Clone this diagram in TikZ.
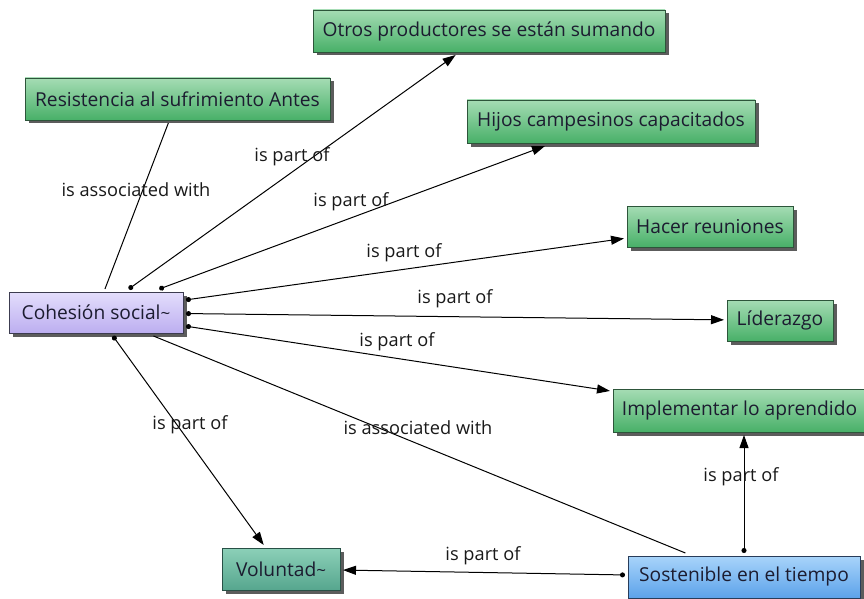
\documentclass[tikz,border=0pt]{standalone}
\usepackage{fontspec}
\setmainfont{Open Sans}
\usetikzlibrary{arrows.meta,shadows}
\definecolor{gtop}{RGB}{165,220,180}
\definecolor{gbot}{RGB}{72,176,104}
\definecolor{gline}{RGB}{45,85,58}
\definecolor{ptop}{RGB}{228,222,252}
\definecolor{pbot}{RGB}{188,174,240}
\definecolor{pline}{RGB}{60,60,80}
\definecolor{ttop}{RGB}{140,208,184}
\definecolor{tbot}{RGB}{86,166,142}
\definecolor{tline}{RGB}{40,80,70}
\definecolor{btop}{RGB}{168,212,250}
\definecolor{bbot}{RGB}{92,162,234}
\definecolor{bline}{RGB}{40,60,90}
\definecolor{txt}{RGB}{28,28,48}
\newcommand{\smalltilde}{{\fontsize{17}{17}\selectfont\textasciitilde}}
\begin{document}
\begin{tikzpicture}[x=1pt,y=-1pt,
  concept/.style={rectangle, line width=0.9pt, inner sep=0pt, outer sep=3pt,
    font=\fontsize{19.2}{21}\selectfont, text=txt,
    drop shadow={shadow xshift=3.5pt, shadow yshift=-3.5pt, opacity=0.8, fill=black!80}},
  greenbox/.style={concept, top color=gtop, bottom color=gbot, draw=gline},
  purplebox/.style={concept, top color=ptop, bottom color=pbot, draw=pline},
  tealbox/.style={concept, top color=ttop, bottom color=tbot, draw=tline},
  bluebox/.style={concept, top color=btop, bottom color=bbot, draw=bline},
  link/.style={draw=black, line width=1pt},
  partof/.style={link, {Circle[length=5pt]}-{Triangle[length=13pt,width=9pt]}},
  assoc/.style={link},
  lbl/.style={font=\fontsize{18.2}{20}\selectfont, text=black!90, inner sep=0pt}
]
\useasboundingbox (0,0) rectangle (864,599);

% concepts
\node[greenbox, minimum width=352pt, minimum height=42pt] (otros)  at (489,31)    {Otros productores se están sumando};
\node[greenbox, minimum width=305pt, minimum height=42pt] (resist) at (177.5,99)  {Resistencia al sufrimiento Antes};
\node[greenbox, minimum width=288pt, minimum height=43pt] (hijos)  at (611,121.5) {Hijos campesinos capacitados};
\node[greenbox, minimum width=166pt, minimum height=41pt] (hacer)  at (710,226.5) {Hacer reuniones};
\node[purplebox,minimum width=174pt, minimum height=41pt] (coh)    at (96,312.5)  {Cohesión social\smalltilde};
\node[greenbox, minimum width=106pt, minimum height=41pt] (lider)  at (780,320.5) {Líderazgo};
\node[greenbox, minimum width=253pt, minimum height=43pt] (impl)   at (739.5,410.5) {Implementar lo aprendido};
\node[tealbox,  minimum width=118pt, minimum height=42pt] (volun)  at (281,569)   {Voluntad\smalltilde};
\node[bluebox,  minimum width=232pt, minimum height=42pt] (sost)   at (744,577)   {Sostenible en el tiempo};

% links
\draw[partof] (coh) -- (otros);
\draw[partof] (coh) -- (hijos);
\draw[partof] (coh) -- (hacer);
\draw[partof] (coh) -- (lider);
\draw[partof] (coh) -- (impl);
\draw[partof] (coh) -- (volun);
\draw[assoc]  (coh) -- (sost);
\draw[assoc]  (resist) -- (coh);
\draw[partof] (sost) -- (volun);
\draw[partof] (sost.north) -- (sost.north |- impl.south);

% link labels
\node[lbl] (l1)  at (292,157) {is part of};
\node[lbl] (l2)  at (351,202) {is part of};
\node[lbl] (l3)  at (404,253) {is part of};
\node[lbl] (l4)  at (455,299) {is part of};
\node[lbl] (l5)  at (397,342) {is part of};
\node[lbl] (l6)  at (190,425) {is part of};
\node[lbl] (l7)  at (418,428) {is associated with};
\node[lbl] (l8)  at (136,190) {is associated with};
\node[lbl] (l9)  at (483,556) {is part of};
\node[lbl] (l10) at (741,477) {is part of};
\end{tikzpicture}
\end{document}
